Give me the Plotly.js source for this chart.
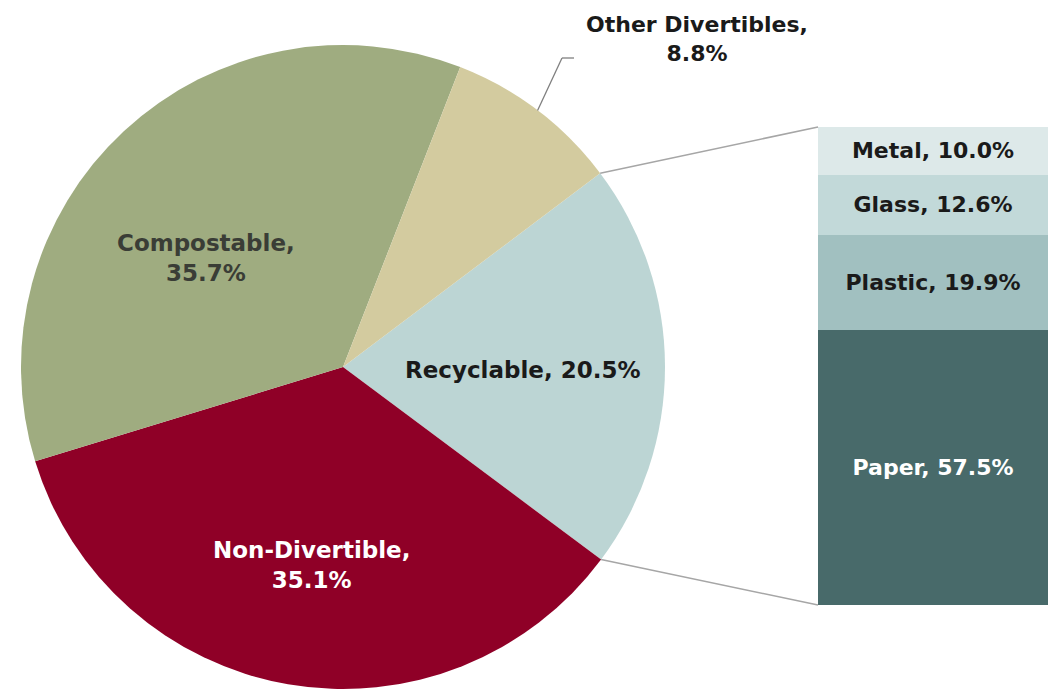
<!DOCTYPE html>
<html>
<head>
<meta charset="utf-8">
<script src="https://cdn.plot.ly/plotly-3.0.1.min.js"></script>
<style>html,body{margin:0;padding:0;background:#fff;}#chart{width:1048px;height:691px;}</style>
</head>
<body>
<div id="chart"></div>
<script>
// ---- data ----
const pieLabels = ["Recyclable", "Non-Divertible", "Compostable", "Other Divertibles"];
const pieValues = [20.5, 35.1, 35.7, 8.8];
const pieColors = ["#bcd5d4", "#8f0027", "#9fac80", "#d3cb9f"];

const subLabels = ["Metal", "Glass", "Plastic", "Paper"];
const subValues = [10.0, 12.6, 19.9, 57.5];
const subColors = ["#dde9e9", "#c2d9d9", "#a1c0c0", "#486a6a"];
const subTextColors = ["#1a1a1a", "#1a1a1a", "#1a1a1a", "#ffffff"];

// ---- geometry (layout) ----
const W = 1048, H = 691;
const pieDomX = [21 / W, 665 / W];
const pieDomY = [(H - 689) / H, (H - 45) / H];
const rotation = 53;
const barDomX = [818 / W, 1.0];
const barDomY = [(H - 605) / H, (H - 127) / H];

const FONT = "DejaVu Sans, sans-serif";

const cx = (pieDomX[0] + pieDomX[1]) / 2 * W;
const cy = (1 - (pieDomY[0] + pieDomY[1]) / 2) * H;
const R = Math.min((pieDomX[1] - pieDomX[0]) * W, (pieDomY[1] - pieDomY[0]) * H) / 2;
const pieTotal = pieValues.reduce((a, b) => a + b, 0);
function piePoint(deg, rr) {
  const t = deg * Math.PI / 180;
  return [(cx + rr * Math.sin(t)) / W, 1 - (cy - rr * Math.cos(t)) / H];
}
// cumulative angles (clockwise from 12 o'clock)
const angles = [rotation];
pieValues.forEach(v => angles.push(angles[angles.length - 1] + 360 * v / pieTotal));

const traces = [];
traces.push({
  type: "pie",
  labels: pieLabels,
  values: pieValues,
  sort: false,
  direction: "clockwise",
  rotation: rotation,
  marker: { colors: pieColors, line: { width: 0 } },
  textinfo: "none",
  hoverinfo: "label+percent",
  domain: { x: pieDomX, y: pieDomY },
  showlegend: false
});

// stacked bar: bottom first
for (let i = subLabels.length - 1; i >= 0; i--) {
  traces.push({
    type: "bar",
    x: [0],
    y: [subValues[i]],
    name: subLabels[i],
    xaxis: "x",
    yaxis: "y",
    marker: { color: subColors[i], line: { width: 0 } },
    text: [subLabels[i] + ", " + subValues[i].toFixed(1) + "%"],
    textposition: "inside",
    insidetextanchor: "middle",
    textangle: 0,
    constraintext: "none",
    textfont: { family: FONT, size: 22, color: subTextColors[i], weight: "bold" },
    width: 1,
    showlegend: false,
    hoverinfo: "name+y"
  });
}
const subTotal = subValues.reduce((a, b) => a + b, 0);

// connectors
const pTop = piePoint(angles[0], R);
const pBot = piePoint(angles[1], R);
const shapes = [
  { type: "line", xref: "paper", yref: "paper", x0: pTop[0], y0: pTop[1], x1: barDomX[0], y1: barDomY[1], line: { color: "#a6a6a6", width: 1.5 } },
  { type: "line", xref: "paper", yref: "paper", x0: pBot[0], y0: pBot[1], x1: barDomX[0], y1: barDomY[0], line: { color: "#a6a6a6", width: 1.5 } }
];
// leader for Other Divertibles
const otherIdx = 3;
const otherMid = (angles[otherIdx] + angles[otherIdx + 1]) / 2;
const pO = piePoint(otherMid, R);
const elbow = [562 / W, 1 - 58 / H];
const endL = [574 / W, 1 - 58 / H];
shapes.push({ type: "line", xref: "paper", yref: "paper", x0: pO[0], y0: pO[1], x1: elbow[0], y1: elbow[1], line: { color: "#7f7f7f", width: 1.3 } });
shapes.push({ type: "line", xref: "paper", yref: "paper", x0: elbow[0], y0: elbow[1], x1: endL[0], y1: endL[1], line: { color: "#7f7f7f", width: 1.3 } });

function pct(i) { return pieValues[i].toFixed(1) + "%"; }
const labelPos = [
  { x: 522 / W, y: 1 - 370 / H, text: pieLabels[0] + ", " + pct(0), color: "#1a1a1a", size: 23 },
  { x: 311 / W, y: 1 - 565 / H, text: pieLabels[1] + ",<br>" + pct(1), color: "#ffffff", size: 23 },
  { x: 206 / W, y: 1 - 258 / H, text: pieLabels[2] + ",<br>" + pct(2), color: "#3a3d36", size: 23 },
  { x: 697 / W, y: 1 - 39 / H, text: pieLabels[3] + ",<br>" + pct(3), color: "#1a1a1a", size: 22 }
];
const annotations = labelPos.map(l => ({
  xref: "paper", yref: "paper", x: l.x, y: l.y, text: l.text, showarrow: false,
  xanchor: "center", yanchor: "middle", align: "center",
  font: { family: FONT, size: l.size, color: l.color, weight: "bold" }
}));

const layout = {
  width: W, height: H,
  margin: { l: 0, r: 0, t: 0, b: 0 },
  paper_bgcolor: "#ffffff",
  plot_bgcolor: "rgba(0,0,0,0)",
  barmode: "stack",
  bargap: 0,
  xaxis: { domain: barDomX, range: [-0.5, 0.5], visible: false, fixedrange: true },
  yaxis: { domain: barDomY, range: [0, subTotal], visible: false, fixedrange: true },
  shapes: shapes,
  annotations: annotations,
  showlegend: false
};

Plotly.newPlot("chart", traces, layout, { displayModeBar: false, staticPlot: true });
</script>
</body>
</html>
